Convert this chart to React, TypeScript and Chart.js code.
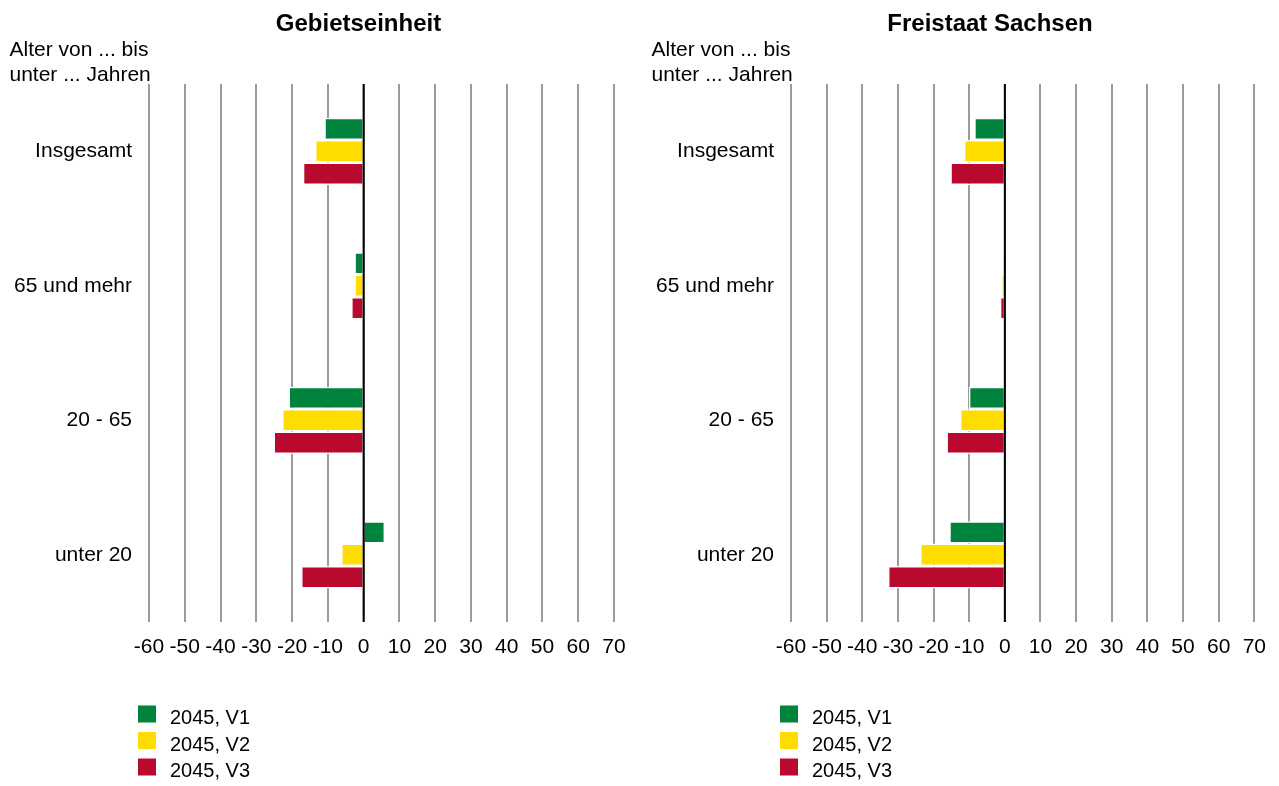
import React, { useEffect, useRef } from "react";
import { Chart, registerables } from "chart.js";

Chart.register(...registerables);

// ---------- data ----------
const categories = ["Insgesamt", "65 und mehr", "20 - 65", "unter 20"];
const seriesLabels = ["2045, V1", "2045, V2", "2045, V3"];
const seriesColors = ["#00843D", "#FFDD00", "#B9092F"];

const gebietV1 = [-11.0, -2.6, -21.0, 6.0];
const gebietV2 = [-13.6, -2.6, -22.8, -6.3];
const gebietV3 = [-17.0, -3.5, -25.2, -17.5];

const sachsenV1 = [-8.6, -0.1, -10.1, -15.6];
const sachsenV2 = [-11.5, -0.9, -12.6, -23.8];
const sachsenV3 = [-15.3, -1.4, -16.4, -32.8];

const xMin = -60;
const xMax = 70;
const xStep = 10;

const titleLeft = "Gebietseinheit";
const titleRight = "Freistaat Sachsen";
const axisCaption = ["Alter von ... bis", "unter ... Jahren"];

const FONT = "'Liberation Sans', Arial, Helvetica, sans-serif";

type PanelProps = {
  title: string;
  titleX: number;
  series: number[][];
  left: number;
  width: number;
  padRight: number;
};

function Panel({ title, titleX, series, left, width, padRight }: PanelProps) {
  const ref = useRef<HTMLCanvasElement | null>(null);

  useEffect(() => {
    if (!ref.current) return;

    const decor = {
      id: "panelDecor",
      afterDatasetsDraw(chart: any) {
        const { ctx, chartArea, scales } = chart;
        const x0 = scales.x.getPixelForValue(0);
        ctx.save();
        ctx.strokeStyle = "#000000";
        ctx.lineWidth = 2;
        ctx.beginPath();
        ctx.moveTo(x0, chartArea.top);
        ctx.lineTo(x0, chartArea.bottom);
        ctx.stroke();
        ctx.restore();
      },
      afterDraw(chart: any) {
        const { ctx } = chart;
        ctx.save();
        ctx.fillStyle = "#000000";
        ctx.font = `bold 24px ${FONT}`;
        ctx.textAlign = "center";
        ctx.textBaseline = "alphabetic";
        ctx.fillText(title, titleX, 30.7);

        ctx.font = `21px ${FONT}`;
        ctx.textAlign = "left";
        axisCaption.forEach((line, i) => ctx.fillText(line, 9.5, 56 + i * 25));

        chart.data.datasets.forEach((ds: any, i: number) => {
          const cy = 714 + i * 26.5;
          ctx.fillStyle = ds.backgroundColor;
          ctx.fillRect(138, cy - 8.5, 18, 17);
          ctx.fillStyle = "#000000";
          ctx.font = `20px ${FONT}`;
          ctx.textBaseline = "alphabetic";
          ctx.fillText(ds.label, 170, cy + 10);
        });
        ctx.restore();
      },
    };

    const chart = new Chart(ref.current, {
      type: "bar",
      data: {
        labels: categories,
        datasets: series.map((values, i) => ({
          label: seriesLabels[i],
          data: values,
          backgroundColor: seriesColors[i],
          borderColor: "#ffffff",
          borderWidth: 1.5,
          borderSkipped: "start",
          categoryPercentage: 0.5,
          barPercentage: 1.0,
        })),
      },
      options: {
        indexAxis: "y",
        animation: false,
        responsive: false,
        maintainAspectRatio: false,
        layout: { padding: { top: 84, left: 0, right: padRight, bottom: 0 } },
        plugins: {
          legend: { display: false },
          title: { display: false },
          tooltip: { enabled: false },
        },
        scales: {
          x: {
            type: "linear",
            min: xMin,
            max: xMax,
            ticks: {
              stepSize: xStep,
              padding: 13,
              autoSkip: false,
              maxRotation: 0,
              minRotation: 0,
              color: "#000000",
              font: { family: FONT, size: 21 },
            },
            grid: {
              color: "#9b9b9b",
              lineWidth: 2,
              drawTicks: false,
            },
            border: { display: false },
            afterFit(scale: any) {
              scale.height = 164;
            },
          },
          y: {
            type: "category",
            ticks: {
              padding: 17,
              color: "#000000",
              font: { family: FONT, size: 21 },
            },
            grid: { display: false, drawTicks: false },
            border: { display: false },
            afterFit(scale: any) {
              scale.width = 149;
            },
          },
        },
      },
      plugins: [decor],
    } as any);

    return () => chart.destroy();
  }, [title, titleX, series, padRight]);

  return (
    <div style={{ position: "absolute", left, top: 0, width, height: 786 }}>
      <canvas ref={ref} width={width} height={786} style={{ display: "block" }} />
    </div>
  );
}

export default function App() {
  return (
    <div
      style={{
        position: "absolute",
        left: 0,
        top: 0,
        width: 1279,
        height: 786,
        overflow: "hidden",
        background: "#ffffff",
      }}
    >
      <Panel
        title={titleLeft}
        titleX={358.5}
        series={[gebietV1, gebietV2, gebietV3]}
        left={0}
        width={642}
        padRight={28}
      />
      <Panel
        title={titleRight}
        titleX={348}
        series={[sachsenV1, sachsenV2, sachsenV3]}
        left={642}
        width={637}
        padRight={23}
      />
    </div>
  );
}
